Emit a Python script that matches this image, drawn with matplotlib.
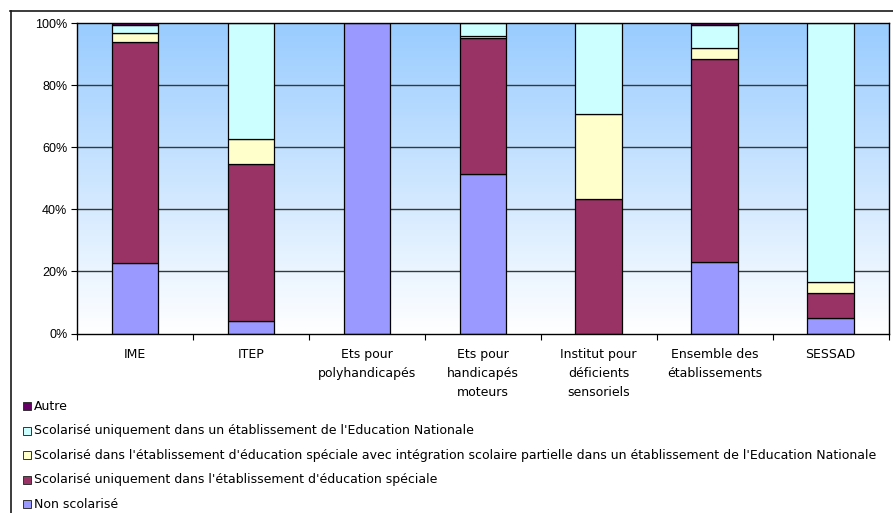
import matplotlib
matplotlib.use('Agg')
import matplotlib.pyplot as plt
import numpy as np
from matplotlib.colors import LinearSegmentedColormap
from matplotlib.lines import Line2D
from matplotlib.patches import Rectangle

plt.rcParams['font.family'] = ['Liberation Sans', 'DejaVu Sans']
WIDE = ['DejaVu Sans']

categories = ["IME", "ITEP", "Ets pour\npolyhandicapés", "Ets pour\nhandicapés\nmoteurs",
              "Institut pour\ndéficients\nsensoriels", "Ensemble des\nétablissements", "SESSAD"]
non_scolarise = [22.6, 4.0, 100.0, 51.4, 0.0, 23.0, 4.9]
education_speciale = [71.3, 50.6, 0.0, 43.8, 43.4, 65.4, 8.2]
integration_partielle = [3.0, 8.2, 0.0, 0.8, 27.3, 3.5, 3.5]
education_nationale = [2.5, 37.2, 0.0, 4.0, 29.3, 7.6, 83.4]
autre = [0.6, 0.0, 0.0, 0.0, 0.0, 0.5, 0.0]

series_values = [non_scolarise, education_speciale, integration_partielle, education_nationale, autre]
series_labels = [
    "Non scolarisé",
    "Scolarisé uniquement dans l'établissement d'éducation spéciale",
    "Scolarisé dans l'établissement d'éducation spéciale avec intégration scolaire partielle dans un établissement de l'Education Nationale",
    "Scolarisé uniquement dans un établissement de l'Education Nationale",
    "Autre",
]
series_colors = ["#9999FF", "#993366", "#FFFFCC", "#CCFFFF", "#660066"]
y_ticks = [0, 20, 40, 60, 80, 100]
y_tick_labels = ["0%", "20%", "40%", "60%", "80%", "100%"]

W, H = 893, 513
fig = plt.figure(figsize=(W / 100, H / 100), dpi=100)
ax = fig.add_axes([77 / W, 1 - 333.5 / H, (888.5 - 77) / W, (333.5 - 23.3) / H])

# background gradient
grad = LinearSegmentedColormap.from_list("bg", ["#FFFFFF", "#99CCFF"])
ax.imshow(np.linspace(0, 1, 256).reshape(-1, 1), cmap=grad, origin='lower',
          extent=[-0.5, 6.5, 0, 100], aspect='auto', zorder=0)

x = np.arange(len(categories))
bottom = np.zeros(len(categories))
for vals, lab, col in zip(series_values, series_labels, series_colors):
    vals = np.array(vals)
    ecs = ['black' if v > 0 else 'none' for v in vals]
    ax.bar(x, vals, width=0.4, bottom=bottom, color=col, edgecolor=ecs,
           linewidth=0.9, label=lab, zorder=3)
    bottom += vals

ax.set_xlim(-0.5, 6.5)
ax.set_ylim(0, 100)
ax.set_yticks(y_ticks)
ax.set_yticklabels(y_tick_labels, fontsize=9)
for yv in y_ticks[1:-1]:
    ax.axhline(yv, color='#383838', linewidth=1.0, zorder=1)

ax.set_xticks(x)
ax.set_xticklabels(categories, fontsize=9, linespacing=1.62, va='top', family=WIDE)
ax.tick_params(axis='x', which='major', length=0, pad=10.5)
ax.set_xticks(np.arange(-0.5, 7.0, 1.0), minor=True)
ax.tick_params(axis='x', which='minor', length=4, width=0.8, direction='out')
ax.tick_params(axis='y', length=4, width=0.8, direction='out', pad=3)
for s in ax.spines.values():
    s.set_color('black')
    s.set_linewidth(1.0)
    s.set_zorder(4)

# outer frame (top and left edges of the chart area)
fig.add_artist(Line2D([10 / W, 1.0], [1 - 10.7 / H, 1 - 10.7 / H], color='#1a1a1a', linewidth=1.2,
                      transform=fig.transFigure))
fig.add_artist(Line2D([10.5 / W, 10.5 / W], [0.0, 1 - 10.7 / H], color='#1a1a1a', linewidth=1.2,
                      transform=fig.transFigure))

# legend (reverse stacking order)
row_y = [406, 430.5, 455, 479.5, 504]
for i, idx in enumerate(reversed(range(len(series_labels)))):
    yc = row_y[i]
    fig.add_artist(Rectangle((23 / W, 1 - (yc + 4) / H), 8 / W, 8 / H, transform=fig.transFigure,
                             facecolor=series_colors[idx], edgecolor='#333333', linewidth=0.7))
    fig.text(34 / W, 1 - yc / H, series_labels[idx], fontsize=9, va='center', ha='left',
             family=WIDE)

fig.savefig("out.png", dpi=100)
